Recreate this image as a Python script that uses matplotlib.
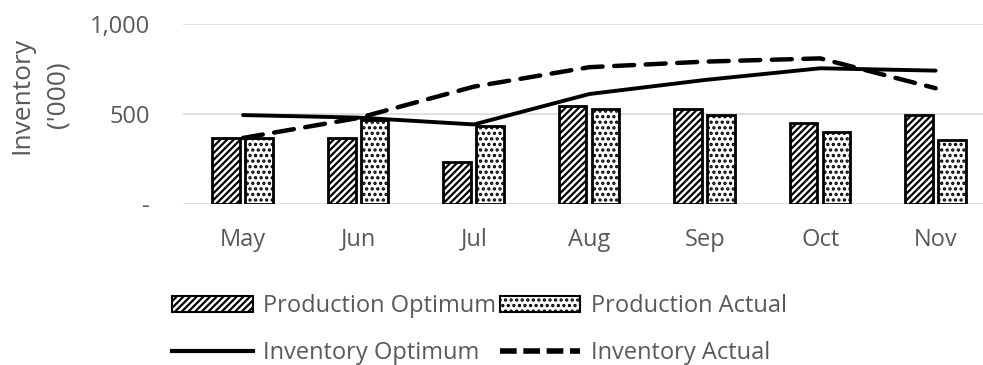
import matplotlib.pyplot as plt
import numpy as np
from matplotlib.lines import Line2D
from matplotlib.patches import Patch

months = ["May", "Jun", "Jul", "Aug", "Sep", "Oct", "Nov"]
prod_optimum = [368, 365, 235, 546, 528, 448, 496]
prod_actual = [368, 467, 433, 528, 496, 400, 356]
inv_optimum = [494, 480, 442, 611, 689, 754, 741]
inv_actual = [367, 478, 652, 760, 791, 809, 643]

plt.rcParams["font.family"] = ["Open Sans", "DejaVu Sans"]
plt.rcParams["hatch.linewidth"] = 1.6
grey = "#595959"
fs = 17

fig = plt.figure(figsize=(9.83, 3.65), dpi=100)
ax = fig.add_axes([183 / 983, 1 - 204 / 365, 800 / 983, 180 / 365])

x = np.arange(len(months))
w = 0.24
ax.bar(x - 0.145, prod_optimum, w, color="white", edgecolor="black",
       linewidth=2, hatch="/////", zorder=2)
ax.bar(x + 0.14, prod_actual, w, color="white", edgecolor="black",
       linewidth=2, hatch="...", zorder=2)
ax.plot(x, inv_optimum, color="black", linewidth=2.8, zorder=3,
        solid_capstyle="round")
ax.plot(x, inv_actual, color="black", linewidth=3.2, zorder=3,
        dashes=(4.5, 2.6), dash_capstyle="round")

ax.set_xlim(-0.52, 6.41)
ax.set_ylim(0, 1000)
ax.set_yticks([0, 500, 1000])
ax.set_yticklabels(["-", "500", "1,000"])
ax.set_xticks(x)
ax.set_xticklabels(months)
ax.tick_params(length=0, labelsize=fs, colors=grey, pad=24)
ax.tick_params(axis="x", pad=17)
ax.grid(axis="y", color="#d9d9d9", linewidth=1.2, zorder=0)
for s in ax.spines.values():
    s.set_visible(False)

fig.text(22 / 983, 1 - 95 / 365, "Inventory", rotation=90, ha="center",
         va="center", fontsize=19, color=grey)
fig.text(58 / 983, 1 - 95 / 365, "('000)", rotation=90, ha="center",
         va="center", fontsize=19, color=grey)

handles = [Patch(facecolor="white", edgecolor="black", hatch="/////", linewidth=1.5),
           Line2D([], [], color="black", linewidth=3),
           Patch(facecolor="white", edgecolor="black", hatch="...", linewidth=1.5),
           Line2D([], [], color="black", linewidth=4, dashes=(3, 1.2))]
labels = ["Production Optimum", "Inventory Optimum",
          "Production Actual", "Inventory Actual"]
fig.legend(handles, labels, ncol=2, loc="upper left",
           bbox_to_anchor=(163 / 983, 1 - 285 / 365), borderaxespad=0,
           frameon=False, fontsize=fs, labelcolor=grey, handlelength=3.4,
           handleheight=0.62, handletextpad=0.45, columnspacing=0.15,
           labelspacing=0.95)

fig.savefig("out.png", dpi=100)
